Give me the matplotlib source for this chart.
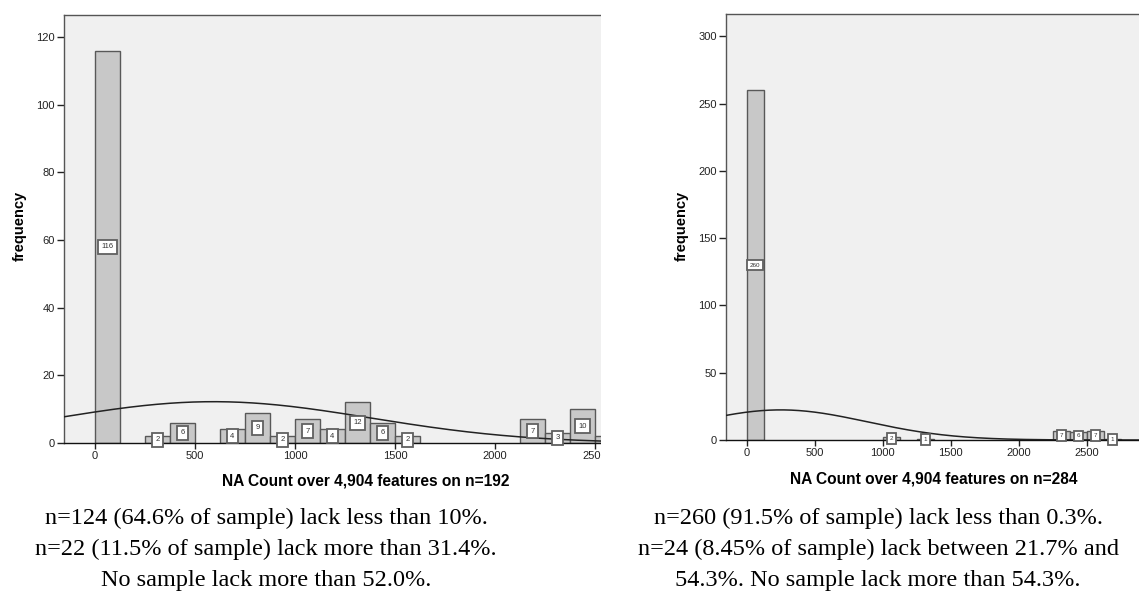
import numpy as np
import matplotlib
matplotlib.use("Agg")
from matplotlib import pyplot as plt

# histogram bins (left edge of each bin) and counts, bin width 125
bin_width = 125
left_starts = [0, 250, 375, 625, 750, 875, 1000, 1125, 1250, 1375, 1500, 2125, 2250, 2375, 2500]
left_counts = [116, 2, 6, 4, 9, 2, 7, 4, 12, 6, 2, 7, 3, 10, 2]
right_starts = [0, 1000, 1250, 2250, 2375, 2500, 2625]
right_counts = [260, 2, 1, 7, 6, 7, 1]

left_xticks = [0, 500, 1000, 1500, 2000, 2500]
right_xticks = [0, 500, 1000, 1500, 2000, 2500]
left_yticks = [0, 20, 40, 60, 80, 100, 120]
right_yticks = [0, 50, 100, 150, 200, 250, 300]

left_xlabel = "NA Count over 4,904 features on n=192"
right_xlabel = "NA Count over 4,904 features on n=284"
left_caption = ["n=124 (64.6% of sample) lack less than 10%.",
                "n=22 (11.5% of sample) lack more than 31.4%.",
                "No sample lack more than 52.0%."]
right_caption = ["n=260 (91.5% of sample) lack less than 0.3%.",
                 "n=24 (8.45% of sample) lack between 21.7% and",
                 "54.3%. No sample lack more than 54.3%."]

W, H = 1139, 592


def px_axes(x0, y0, x1, y1):
    # pixel box (top-left origin) -> figure fraction rect
    return [x0 / W, 1 - y1 / H, (x1 - x0) / W, (y1 - y0) / H]


def draw_panel(ax, starts, counts, xlim, ylim, xticks, yticks, xlabel,
               box_fs, xlabel_pos, ylabel_pos):
    ax.set_facecolor("#f0f0f0")
    starts = np.array(starts, dtype=float)
    counts = np.array(counts, dtype=float)
    ax.bar(starts, counts, width=bin_width, align="edge", color="#c8c8c8",
           edgecolor="#585858", linewidth=1.0, zorder=2)

    # normal curve fitted to the binned data
    mids = starts + bin_width / 2
    n = counts.sum()
    mu = (mids * counts).sum() / n
    sd = np.sqrt(((mids - mu) ** 2 * counts).sum() / (n - 1))
    xs = np.linspace(xlim[0], xlim[1], 500)
    ys = n * bin_width * np.exp(-0.5 * ((xs - mu) / sd) ** 2) / (sd * np.sqrt(2 * np.pi))
    ax.plot(xs, ys, color="#222222", lw=1.1, zorder=3)

    for m, c in zip(mids, counts):
        ax.text(m, c / 2, str(int(c)), ha="center", va="center", fontsize=box_fs,
                color="#333333", zorder=4,
                bbox=dict(boxstyle="square,pad=0.45", fc="white", ec="#606060", lw=1.3))

    ax.set_xlim(*xlim)
    ax.set_ylim(*ylim)
    ax.set_xticks(xticks)
    ax.set_yticks(yticks)
    ax.tick_params(axis="both", labelsize=8, colors="#222222", direction="out")
    ax.tick_params(axis="y", length=5, pad=1.5, width=1)
    ax.tick_params(axis="x", length=4, pad=1.5, width=1)
    for side in ("top", "left"):
        ax.spines[side].set_color("#555555")
        ax.spines[side].set_linewidth(1.0)
    ax.spines["bottom"].set_color("#111111")
    ax.spines["bottom"].set_linewidth(1.0)
    ax.spines["right"].set_visible(False)
    ax.set_xlabel(xlabel, fontsize=11.2, fontweight="bold")
    ax.set_ylabel("frequency", fontsize=10.5, fontweight="bold")
    ax.xaxis.set_label_coords(*xlabel_pos)
    ax.yaxis.set_label_coords(*ylabel_pos)
    ax.xaxis.label.set_va("center")
    ax.yaxis.label.set_va("center")


plt.rcParams["font.family"] = ["Liberation Sans", "DejaVu Sans"]
fig = plt.figure(figsize=(W / 100, H / 100), dpi=100)

# left chart (cropped on the right side)
lx0, ly0, lx1, ly1 = 64, 15, 601, 443
ax1 = fig.add_axes(px_axes(lx0, ly0, lx1, ly1))
l_scale = 0.2  # px per unit
l_xlim = ((lx0 - 95) / l_scale, (lx1 - 95) / l_scale)
draw_panel(ax1, left_starts, left_counts, l_xlim, (0, 126.5), left_xticks, left_yticks,
           left_xlabel, 5.5,
           ((366 - lx0) / (lx1 - lx0), (ly1 - 481) / (ly1 - ly0)),
           ((20 - lx0) / (lx1 - lx0), (ly1 - 226) / (ly1 - ly0)))

# right chart
rx0, ry0, rx1, ry1 = 726, 14, 1139, 440
ax2 = fig.add_axes(px_axes(rx0, ry0, rx1, ry1))
r_scale = 0.136
r_xlim = ((rx0 - 746.7) / r_scale, (rx1 - 746.7) / r_scale)
draw_panel(ax2, right_starts, right_counts, r_xlim, (0, 316.5), right_xticks, right_yticks,
           right_xlabel, 4.5,
           ((934 - rx0) / (rx1 - rx0), (ry1 - 479) / (ry1 - ry0)),
           ((682 - rx0) / (rx1 - rx0), (ry1 - 226) / (ry1 - ry0)))

# the left chart image is cut off at its right side
fig.add_artist(plt.Rectangle((lx1 / W, 1 - 470 / H), (668 - lx1) / W, 470 / H,
                             transform=fig.transFigure, fc="white", ec="none", zorder=10))

baselines = [524, 555.5, 586]
for line, yb in zip(left_caption, baselines):
    fig.text(266 / W, 1 - yb / H, line, ha="center", va="baseline",
             fontsize=17.5, family="Liberation Serif")
for line, yb in zip(right_caption, baselines):
    fig.text(878 / W, 1 - yb / H, line, ha="center", va="baseline",
             fontsize=17.5, family="Liberation Serif")

fig.savefig("out.png", dpi=100)
